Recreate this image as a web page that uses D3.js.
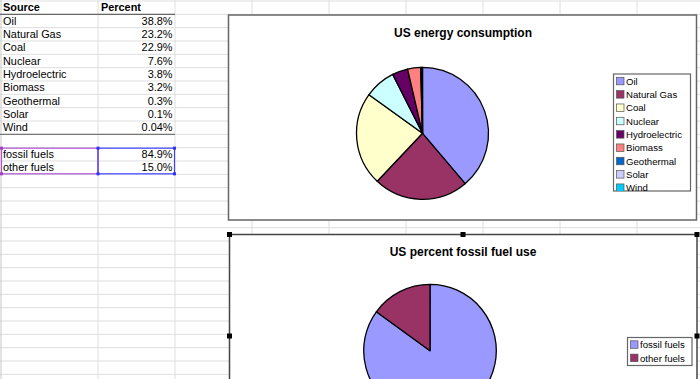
<!DOCTYPE html>
<html>
<head>
<meta charset="utf-8">
<script src="https://cdn.jsdelivr.net/npm/d3@7"></script>
<style>
  html, body { margin: 0; padding: 0; background: #fff; }
  svg { display: block; }
  text { font-family: "Liberation Sans", Arial, sans-serif; fill: #000; }
</style>
</head>
<body>
<svg id="chart" width="700" height="379"></svg>
<script>
// ---- data ----
const sources = ["Oil", "Natural Gas", "Coal", "Nuclear", "Hydroelectric", "Biomass", "Geothermal", "Solar", "Wind"];
const percents = [38.8, 23.2, 22.9, 7.6, 3.8, 3.2, 0.3, 0.1, 0.04];
const percentLabels = ["38.8%", "23.2%", "22.9%", "7.6%", "3.8%", "3.2%", "0.3%", "0.1%", "0.04%"];
const fuelGroups = ["fossil fuels", "other fuels"];
const fuelPercents = [84.9, 15.0];
const fuelLabels = ["84.9%", "15.0%"];
const sourceColors = ["#9999FF", "#993366", "#FFFFCC", "#CCFFFF", "#660066", "#FF8080", "#0066CC", "#CCCCFF", "#00CCFF"];
const fuelColors = ["#9999FF", "#993366"];
const title1 = "US energy consumption";
const title2 = "US percent fossil fuel use";

// ---- layout ----
const svg = d3.select("#chart");
const W = 700, H = 379;
const rowH = 13.333, row0 = 1;
const colEdges = [98, 175, 252, 329, 406, 483, 560, 637];

// gridlines
const grid = svg.append("g");
d3.range(0, 29).forEach(k => {
  const y = row0 + k * rowH;
  grid.append("line").attr("x1", 0).attr("x2", W).attr("y1", y).attr("y2", y)
    .attr("stroke", "#dedede").attr("stroke-width", 1);
});
colEdges.forEach(x => {
  grid.append("line").attr("x1", x).attr("x2", x).attr("y1", 0).attr("y2", H)
    .attr("stroke", "#dedede").attr("stroke-width", 1);
});
grid.append("line").attr("x1", 1).attr("x2", 1).attr("y1", 0).attr("y2", H)
  .attr("stroke", "#c8c8c8").attr("stroke-width", 1);

// table
const rowY = i => row0 + i * rowH;  // top of row i
const table = svg.append("g").style("font-size", "10.9px");
table.append("text").attr("x", 3).attr("y", rowY(0) + 10.3).attr("font-weight", "bold").text("Source");
table.append("text").attr("x", 101).attr("y", rowY(0) + 10.3).attr("font-weight", "bold").text("Percent");
table.append("line").attr("x1", 0).attr("x2", 175).attr("y1", rowY(1)).attr("y2", rowY(1))
  .attr("stroke", "#666").attr("stroke-width", 1.2);
sources.forEach((s, i) => {
  table.append("text").attr("x", 3).attr("y", rowY(i + 1) + 10.3).text(s);
  table.append("text").attr("x", 172.5).attr("y", rowY(i + 1) + 10.3).attr("text-anchor", "end").text(percentLabels[i]);
});
table.append("line").attr("x1", 0).attr("x2", 175).attr("y1", rowY(10)).attr("y2", rowY(10))
  .attr("stroke", "#777").attr("stroke-width", 1.2);
fuelGroups.forEach((s, i) => {
  table.append("text").attr("x", 3).attr("y", rowY(i + 11) + 10.3).text(s);
  table.append("text").attr("x", 172.5).attr("y", rowY(i + 11) + 10.3).attr("text-anchor", "end").text(fuelLabels[i]);
});
// selection boxes
const selTop = rowY(11) + 0.5, selBot = rowY(13) - 0.5;
table.append("rect").attr("x", 1.5).attr("y", selTop).attr("width", 96.5).attr("height", selBot - selTop)
  .attr("fill", "none").attr("stroke", "#b050d0").attr("stroke-width", 1.2);
table.append("rect").attr("x", 98).attr("y", selTop).attr("width", 76.5).attr("height", selBot - selTop)
  .attr("fill", "none").attr("stroke", "#4040ff").attr("stroke-width", 1.2);
[[1.5, selTop, "#a040c0"], [1.5, selBot, "#a040c0"], [98, selTop, "#3030ff"], [98, selBot, "#3030ff"], [174.5, selTop, "#3030ff"], [174.5, selBot, "#3030ff"]]
  .forEach(([x, y, c]) => table.append("rect").attr("x", x - 1.5).attr("y", y - 1.5).attr("width", 3).attr("height", 3).attr("fill", c));

// ---- chart drawer ----
function drawChart(opt) {
  const g = svg.append("g");
  g.append("rect").attr("x", opt.box[0]).attr("y", opt.box[1]).attr("width", opt.box[2]).attr("height", opt.box[3])
    .attr("fill", "#fff").attr("stroke", opt.border).attr("stroke-width", 1.5);
  g.append("text").attr("x", opt.titleX).attr("y", opt.titleY).attr("text-anchor", "middle")
    .attr("font-weight", "bold").style("font-size", "12px").text(opt.title);

  const pie = d3.pie().sort(null).value(d => d).startAngle(0).endAngle(2 * Math.PI);
  const arc = d3.arc().innerRadius(0).outerRadius(opt.r);
  const arcs = pie(opt.values);
  g.append("g").attr("transform", `translate(${opt.cx},${opt.cy})`)
    .selectAll("path").data(arcs).join("path")
    .attr("d", arc)
    .attr("fill", (d, i) => opt.colors[i])
    .attr("stroke", "#000").attr("stroke-width", 1.3).attr("stroke-linejoin", "round");

  // legend
  const [lx, ly, lw, lh] = opt.legend;
  const clipId = "clip" + opt.id;
  g.append("clipPath").attr("id", clipId).append("rect").attr("x", lx).attr("y", ly).attr("width", lw).attr("height", lh);
  g.append("rect").attr("x", lx).attr("y", ly).attr("width", lw).attr("height", lh)
    .attr("fill", "#fff").attr("stroke", "#666").attr("stroke-width", 1.2);
  const lg = g.append("g").attr("clip-path", `url(#${clipId})`).style("font-size", "9.6px");
  opt.names.forEach((n, i) => {
    const y = ly + opt.legPad + i * 13.33;
    lg.append("rect").attr("x", lx + 3).attr("y", y - 4).attr("width", 7.5).attr("height", 7.5)
      .attr("fill", opt.colors[i]).attr("stroke", "#555").attr("stroke-width", 0.7);
    lg.append("text").attr("x", lx + 12.5).attr("y", y + 3.4).text(n);
  });
  return g;
}

drawChart({
  id: 1, box: [228.5, 15, 468, 205], border: "#666",
  title: title1, titleX: 463, titleY: 37,
  cx: 422.5, cy: 133.3, r: 66,
  values: percents, colors: sourceColors, names: sources,
  legend: [613.5, 74, 77, 117], legPad: 7.3
});

const g2 = drawChart({
  id: 2, box: [229.5, 234.5, 467.5, 200], border: "#444",
  title: title2, titleX: 463, titleY: 256,
  cx: 430, cy: 350.7, r: 66.3,
  values: fuelPercents, colors: fuelColors, names: fuelGroups,
  legend: [627.5, 337.5, 64.5, 28], legPad: 7.3
});
// selection handles of chart 2
[[229.5, 234.5], [463, 234.5], [697, 234.5], [229.5, 336], [697, 336]].forEach(([x, y]) =>
  g2.append("rect").attr("x", x - 2.5).attr("y", y - 2.5).attr("width", 5).attr("height", 5).attr("fill", "#000"));
</script>
</body>
</html>
